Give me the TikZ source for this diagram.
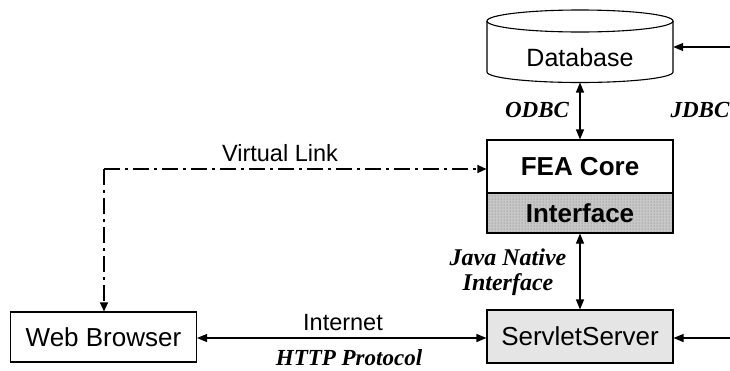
\documentclass[tikz,border=0pt]{standalone}
\usepackage{fontspec}
\setmainfont{Liberation Sans}
\newfontfamily\lserif{Liberation Serif}
\usetikzlibrary{arrows.meta,patterns}
\tikzset{
  box/.style={draw, line width=1.1pt, inner sep=0pt, font=\fontsize{26}{30}\selectfont},
  lbl/.style={font=\fontsize{23.5}{27}\selectfont, inner sep=0pt},
  ilbl/.style={font=\lserif\bfseries\itshape\fontsize{23}{25}\selectfont, inner sep=0pt, align=center},
  conn/.style={line width=1.1pt, -{Triangle[length=10pt,width=8pt]}},
  dconn/.style={line width=1.1pt, {Triangle[length=10pt,width=8pt]}-{Triangle[length=10pt,width=8pt]}},
  vlink/.style={line width=1.1pt, dash pattern=on 16pt off 5pt on 3pt off 5pt, -{Triangle[length=9pt,width=8pt]}},
}
\begin{document}
\begin{tikzpicture}[x=1pt,y=-1pt]
\useasboundingbox (0,0) rectangle (730,370);
% Database cylinder
\draw[line width=1.1pt, fill=white] (487,21) -- (487,72) arc[start angle=180,end angle=0,x radius=93,y radius=10.5] -- (673,21);
\draw[line width=1.1pt] (580,21) ellipse[x radius=93, y radius=11];
\node[inner sep=0pt, minimum width=186pt, font=\fontsize{25}{28}\selectfont] (db) at (580,57.5) {Database};
\coordinate (dbb) at (580,82.5);
% FEA core + interface
\node[box, minimum width=186pt, minimum height=53pt, font=\bfseries\fontsize{26}{30}\selectfont] (fea) at (580,166.5) {FEA Core};
\fill[black!22] (487,193) rectangle (673,233);
\fill[pattern=dots, pattern color=black!55] (487,193) rectangle (673,233);
\node[box, minimum width=186pt, minimum height=40pt, font=\bfseries\fontsize{26}{30}\selectfont] (intf) at (580,213) {Interface};
% Servlet server
\node[box, fill=black!10, minimum width=186pt, minimum height=53pt] (srv) at (580,336.5) {ServletServer};
% Web browser
\node[box, minimum width=186pt, minimum height=50pt] (web) at (103.5,337) {Web Browser};
% right free ends
\coordinate (r1) at (731,47);
\coordinate (r2) at (731,338);
\coordinate (vc) at (104,169);
% connectors
\draw[conn] (r1) -- (r1 -| db.east);
\draw[conn] (r2) -- (r2 -| srv.east);
\draw[dconn] (fea.north) -- (dbb);
\draw[dconn] (intf.south) -- (srv.north);
\draw[dconn] (web.east |- 0,338) -- (srv.west |- 0,338);
\draw[vlink] (vc) -- (vc -| fea.west);
\draw[vlink] (vc) -- (vc |- web.north);
% labels
\node[ilbl] (odbc) at (537,110) {ODBC};
\node[ilbl] (jdbc) at (700,110) {JDBC};
\node[ilbl, font=\lserif\bfseries\itshape\fontsize{24}{25}\selectfont] (jni) at (508,272.5) {Java Native\\Interface};
\node[lbl] (vl) at (280,153) {Virtual Link};
\node[lbl] (inet) at (343,323) {Internet};
\node[ilbl] (http) at (349,358) {HTTP Protocol};
\end{tikzpicture}
\end{document}
